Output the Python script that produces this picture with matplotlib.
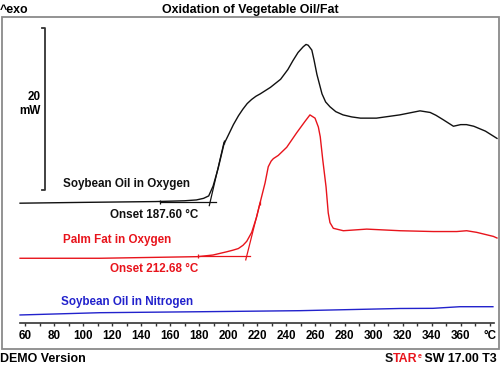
import matplotlib
matplotlib.use("Agg")
import matplotlib.pyplot as plt
import matplotlib.transforms as mtransforms
from matplotlib.patches import Rectangle

plt.rcParams['font.family'] = ['Liberation Sans', 'DejaVu Sans']
plt.rcParams['font.weight'] = 'bold'

# --- data (temperature in °C, heat flow in mW incl. display offset) ---
temp_soy_o2 = [56.6, 100, 150, 170, 178, 183, 186.5, 189.5, 193, 197, 200, 203.5,
               207, 210, 213, 216, 219, 222, 229, 236, 241, 244.5, 248, 251.5, 253.5,
               255, 257.5, 259, 261, 264.5, 267, 270, 274, 279, 285, 291, 302, 318,
               332, 339, 343, 348, 355, 360, 364, 369, 377, 385]
hf_soy_o2 = [20.1, 20.2, 20.3, 20.4, 20.5, 20.7, 21.0, 22.2, 24.4, 27.4, 28.5, 29.8,
             30.9, 31.7, 32.4, 32.9, 33.3, 33.6, 34.4, 35.4, 36.6, 37.7, 38.7, 39.4, 39.7,
             39.6, 39.0, 37.8, 36.0, 33.6, 32.6, 32.0, 31.4, 31.0, 30.75, 30.6, 30.6, 31.0,
             31.5, 31.3, 30.95, 30.4, 29.6, 29.8, 29.8, 29.6, 29.0, 28.1]

temp_palm_o2 = [56.6, 111.6, 179.0, 189.4, 198.9, 203.2, 206.9, 210.1, 212.7, 216.1,
                219.5, 221.8, 225.3, 227.5, 229.5, 231.0, 234.4, 240.2, 247.1, 252.8,
                256.2, 259.7, 262.0, 263.3, 265.0, 267.3, 268.8, 270.0, 272.3, 279.2,
                295.3, 318.2, 341.1, 357.3, 364.1, 371.0, 382.5, 385]
hf_palm_o2 = [13.3, 13.3, 13.5, 13.7, 14.1, 14.3, 14.5, 14.9, 15.4, 16.5,
              18.4, 20.1, 22.6, 24.6, 25.3, 25.6, 26.0, 27.0, 28.8, 30.2,
              31.0, 30.6, 29.5, 28.3, 25.5, 22.1, 18.9, 17.7, 17.0, 16.7,
              16.9, 16.7, 16.6, 16.6, 16.7, 16.5, 16.0, 15.8]

temp_soy_n2 = [56.6, 111.6, 180.5, 249.4, 318.2, 340.9, 359.5, 382.2]
hf_soy_n2 = [6.3, 6.58, 6.7, 6.83, 7.1, 7.12, 7.32, 7.32]

# onset evaluations: baseline limits, tangent end points
onset_soy = 187.60
base_soy_t = [153, 191.5]
base_soy_hf = [20.3, 20.3]
tang_soy_t = [186.9, 197.0]
tang_soy_hf = [19.8, 27.6]

onset_palm = 212.68
base_palm_t = [179.2, 214.9]
base_palm_hf = [13.6, 13.6]
tang_palm_t = [212.0, 221.8]
tang_palm_hf = [13.1, 20.1]

xticks = list(range(60, 381, 20))
xticklabels = [str(t) for t in range(60, 361, 20)] + ['°C']
scale_mw = 20

BLACK = '#111111'
RED = '#e8141c'
BLUE = '#2222cc'

fig = plt.figure(figsize=(5, 3.66), dpi=100)
# pixel transform for layout (origin top-left)
pix = mtransforms.Affine2D().scale(1 / 500, -1 / 366).translate(0, 1) + fig.transFigure

ax = fig.add_axes([0, 0, 1, 1])
ax.set_xlim(42.786, 387.07)
ax.set_ylim(0, 45.185)
ax.patch.set_visible(False)
for s in ['left', 'right', 'top']:
    ax.spines[s].set_visible(False)
ax.spines['bottom'].set_position(('data', 5.34))
ax.spines['bottom'].set_bounds(56.6, 382.6)
ax.spines['bottom'].set_color('#333333')
ax.spines['bottom'].set_linewidth(1.2)
ax.set_yticks([])
ax.set_xticks(xticks)
ax.set_xticklabels(xticklabels)
ax.set_xticks(range(70, 380, 20), minor=True)
ax.tick_params(axis='x', which='both', direction='out', length=2.2, width=1.0,
               color='#333333', labelsize=8.4, pad=2.7)

# curves
ax.plot(temp_soy_o2, hf_soy_o2, color=BLACK, lw=1.0)
ax.plot(temp_palm_o2, hf_palm_o2, color=RED, lw=1.0)
ax.plot(temp_soy_n2, hf_soy_n2, color=BLUE, lw=1.0)

# onset constructions
ax.plot(base_soy_t, base_soy_hf, color=BLACK, lw=0.9)
ax.plot(tang_soy_t, tang_soy_hf, color=BLACK, lw=0.9)
ax.plot([base_soy_t[0], tang_soy_t[1]], [base_soy_hf[0], tang_soy_hf[1]],
        ls='none', marker='|', ms=3.5, mew=0.9, color=BLACK)
ax.plot(base_palm_t, base_palm_hf, color=RED, lw=0.9)
ax.plot(tang_palm_t, tang_palm_hf, color=RED, lw=0.9)
ax.plot([base_palm_t[0], tang_palm_t[1]], [base_palm_hf[0], tang_palm_hf[1]],
        ls='none', marker='|', ms=3.5, mew=0.9, color=RED)

# 20 mW scale bar
sb_t, sb_base = 73.8, 21.7
ax.plot([sb_t - 2.0, sb_t, sb_t, sb_t - 2.0],
        [sb_base, sb_base, sb_base + scale_mw, sb_base + scale_mw],
        color='#333333', lw=1.3)

fs = 8.4
fs_big = 8.9
fig.text(40.5, 100, str(scale_mw), transform=pix, ha='right', va='baseline', fontsize=fs)
fig.text(40.5, 114, 'mW', transform=pix, ha='right', va='baseline', fontsize=fs)

fig.text(0, 12.7, '^exo', transform=pix, ha='left', va='baseline', fontsize=fs_big)
fig.text(250, 12.7, 'Oxidation of Vegetable Oil/Fat', transform=pix, ha='center',
         va='baseline', fontsize=fs_big)

fig.text(63, 187.3, 'Soybean Oil in Oxygen', transform=pix, va='baseline', fontsize=fs, color=BLACK)
fig.text(110, 218.3, f'Onset {onset_soy:.2f} °C', transform=pix, va='baseline', fontsize=fs, color=BLACK)
fig.text(63, 243.3, 'Palm Fat in Oxygen', transform=pix, va='baseline', fontsize=fs, color=RED)
fig.text(110, 272, f'Onset {onset_palm:.2f} °C', transform=pix, va='baseline', fontsize=fs, color=RED)
fig.text(61, 305, 'Soybean Oil in Nitrogen', transform=pix, va='baseline', fontsize=fs, color=BLUE)

fig.text(0, 362, 'DEMO Version', transform=pix, va='baseline', fontsize=fs_big)
t1 = fig.text(497, 362, ' SW 17.00 T3', transform=pix, ha='right', va='baseline', fontsize=fs_big)
t2 = ax.annotate('e', xy=(0, 0.55), xycoords=t1, ha='right', va='baseline',
                 fontsize=5, color=RED, annotation_clip=False)
t3 = ax.annotate('TAR', xy=(0, 0), xycoords=t1, xytext=(-3.0, 0), textcoords='offset points',
                 ha='right', va='bottom', fontsize=fs_big, color=RED, annotation_clip=False)
ax.annotate('S', xy=(0, 0), xycoords=t3, ha='right', va='bottom', fontsize=fs_big,
            color=BLACK, annotation_clip=False)

# outer frame
fig.patches.append(Rectangle((1.5, 17), 497, 331.5, transform=pix, fill=False,
                             ec='#8a8a8a', lw=1.3))

fig.savefig('out.png', dpi=100)
